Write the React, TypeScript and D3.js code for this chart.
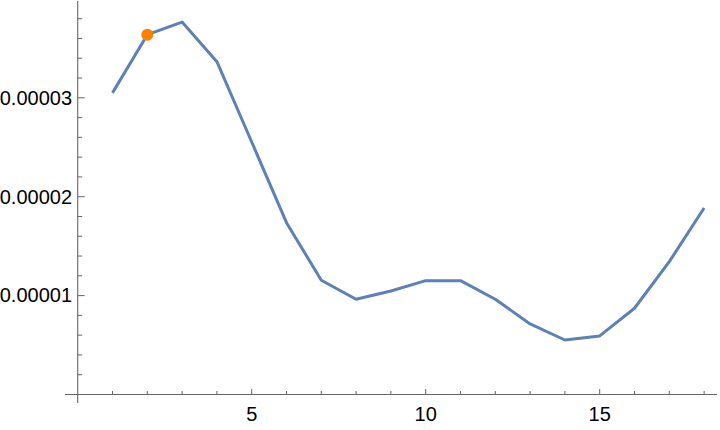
import React from "react";
import * as d3 from "d3";

const xs = [1, 2, 3, 4, 5, 6, 7, 8, 9, 10, 11, 12, 13, 14, 15, 16, 17, 18];
const ys = [
  3.05e-5, 3.638e-5, 3.766e-5, 3.365e-5, 2.553e-5, 1.737e-5, 1.155e-5, 0.963e-5,
  1.047e-5, 1.151e-5, 1.151e-5, 0.963e-5, 0.713e-5, 0.551e-5, 0.592e-5, 0.872e-5,
  1.343e-5, 1.886e-5,
];
const highlightIndex = [1];
const xMajorTicks = [5, 10, 15];
const xMinorTicks = d3.range(1, 19).filter((v) => v % 5 !== 0);
const yMajorTicks = [1e-5, 2e-5, 3e-5];
const yMajorLabels = ["0.00001", "0.00002", "0.00003"];
const yMinorTicks = d3.range(1, 20).map((k) => k * 2e-6).filter((v, i) => (i + 1) % 5 !== 0);

export default function App() {
  const W = 720;
  const H = 430;
  const x = d3.scaleLinear().domain([0, 5]).range([77.7, 251.7]);
  const y = d3.scaleLinear().domain([0, 1e-5]).range([394.5, 295.6]);
  const axisColor = "#666666";
  const font = "'Liberation Sans', Arial, sans-serif";
  const line = d3
    .line<number>()
    .x((_, i) => x(xs[i]))
    .y((d) => y(d));

  return (
    <svg
      width={W}
      height={H}
      style={{ position: "absolute", left: 0, top: 0, background: "#fff" }}
    >
      {/* axes */}
      <line x1={65} x2={717} y1={y(0)} y2={y(0)} stroke={axisColor} strokeWidth={1.1} />
      <line x1={x(0)} x2={x(0)} y1={1} y2={403} stroke={axisColor} strokeWidth={1.1} />
      {xMajorTicks.map((t) => (
        <g key={"xm" + t}>
          <line x1={x(t)} x2={x(t)} y1={y(0)} y2={y(0) - 5.5} stroke={axisColor} strokeWidth={1} />
          <text x={x(t)} y={421} textAnchor="middle" fontFamily={font} fontSize={20} fill="#000">
            {t}
          </text>
        </g>
      ))}
      {xMinorTicks.map((t) => (
        <line key={"xn" + t} x1={x(t)} x2={x(t)} y1={y(0)} y2={y(0) - 3.5} stroke={axisColor} strokeWidth={1} />
      ))}
      {yMajorTicks.map((t, i) => (
        <g key={"ym" + i}>
          <line x1={x(0)} x2={x(0) + 7} y1={y(t)} y2={y(t)} stroke={axisColor} strokeWidth={1} />
          <text x={72} y={y(t) + 6.8} textAnchor="end" fontFamily={font} fontSize={20} fill="#000">
            {yMajorLabels[i]}
          </text>
        </g>
      ))}
      {yMinorTicks.map((t, i) => (
        <line key={"yn" + i} x1={x(0)} x2={x(0) + 4.5} y1={y(t)} y2={y(t)} stroke={axisColor} strokeWidth={1} />
      ))}
      <path d={line(ys) || ""} fill="none" stroke="#5E81B5" strokeWidth={3} strokeLinejoin="round" />
      {highlightIndex.map((i) => (
        <circle key={"h" + i} cx={x(xs[i])} cy={y(ys[i])} r={6} fill="#FF8000" />
      ))}
    </svg>
  );
}
